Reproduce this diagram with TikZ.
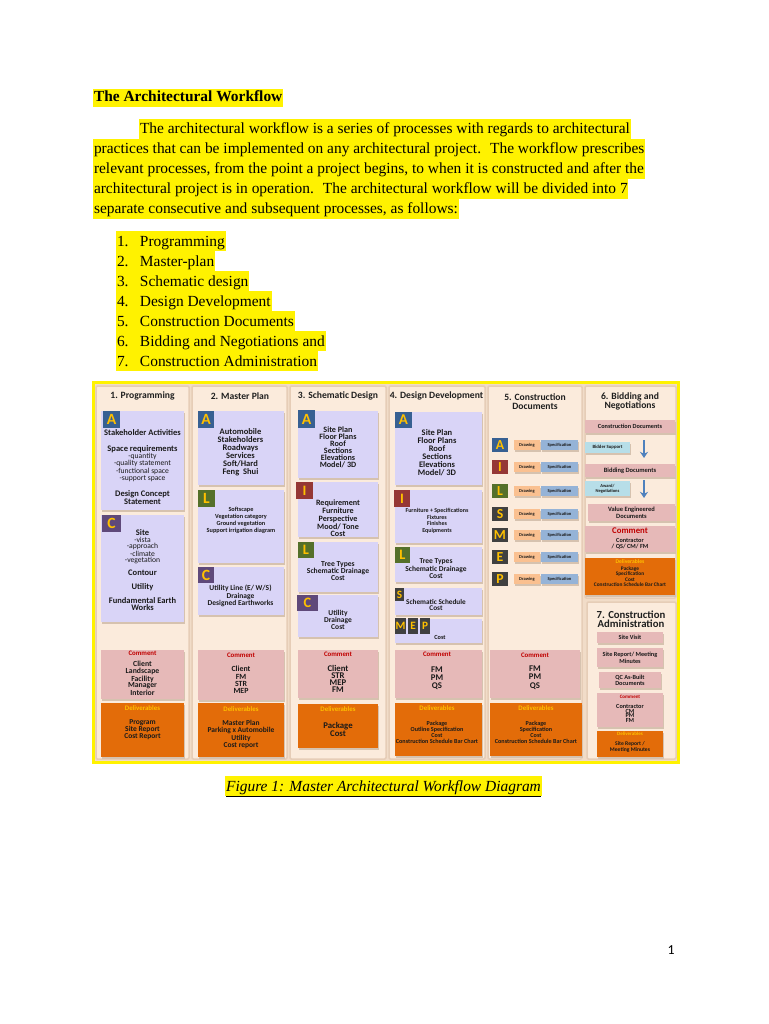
\documentclass[tikz,border=0pt]{standalone}
\usepackage{fontspec}
\setmainfont{Liberation Serif}
\newfontfamily\calfont{Carlito}
\usetikzlibrary{fit,arrows.meta}
\definecolor{bgc}{HTML}{F1DCC8}
\definecolor{panelc}{HTML}{FBEBDC}
\definecolor{paneld}{HTML}{E6CDB7}
\definecolor{lav}{HTML}{D9D4F7}
\definecolor{pinkc}{HTML}{E6B9B8}
\definecolor{orangec}{HTML}{E36C09}
\definecolor{goldc}{HTML}{FFC000}
\definecolor{redt}{HTML}{C00000}
\definecolor{bA}{HTML}{376092}
\definecolor{bI}{HTML}{953735}
\definecolor{bL}{HTML}{55702A}
\definecolor{bC}{HTML}{5F497A}
\definecolor{bS}{HTML}{404040}
\definecolor{drawc}{HTML}{FAC090}
\definecolor{specc}{HTML}{95B3D7}
\definecolor{cyanc}{HTML}{B7DEE8}
\definecolor{arrowc}{HTML}{4F81BD}
\definecolor{shadowc}{HTML}{D6C2AF}
\definecolor{textc}{HTML}{1A1A1A}
\definecolor{hdrc}{HTML}{1F1F1F}
\newcommand\cbf[2]{\calfont\bfseries\fontsize{#1pt}{#2pt}\selectfont}
\newcommand\crg[2]{\calfont\fontsize{#1pt}{#2pt}\selectfont}
\newcommand\bx[6]{\fill[shadowc] (#3+1.2,#4+1.5) rectangle (#5+1.2,#6+1.5);
  \node[#2, fit={(#3,#4)(#5,#6)}] (#1) {};}
\newcommand\bdg[8]{\node[box, fill=#2, fit={(#4,#5)(#6,#7)}] (#1) {};
  \node[inner sep=0pt, text=goldc, font=\cbf{#3}{#3}] (#1-l) at (#1.center) {#8};}
\tikzset{
 box/.style={inner sep=0pt, outer sep=0pt},
 lavbox/.style={box, fill=lav},
 pinkbox/.style={box, fill=pinkc},
 orgbox/.style={box, fill=orangec},
 cyanbox/.style={box, fill=cyanc},
 drawbox/.style={box, fill=drawc},
 specbox/.style={box, fill=specc},
 panel/.style={box, fill=panelc, draw=paneld, line width=1.2pt, rounded corners=1pt},
 txt/.style={inner sep=0pt, align=center, text=textc},
 hdr/.style={txt, font=\cbf{7.7}{7.2}, text=hdrc},
 cmt/.style={txt, font=\cbf{5.5}{5.5}, text=redt},
 dlv/.style={txt, font=\cbf{5.5}{5.5}, text=goldc},
 barrow/.style={draw=arrowc, line width=1.3pt, -{Stealth[length=5pt,width=6.5pt]}},
 hl/.style={fill=yellow, inner xsep=0.6pt, inner ysep=0pt, text height=12pt, text depth=4pt, anchor=base west, font=\fontsize{12.35pt}{14pt}\selectfont}
}
\begin{document}
\begin{tikzpicture}[x=0.8pt,y=-0.8pt]
\useasboundingbox (0,0) rectangle (768,1024);
\fill[white] (0,0) rectangle (768,1024);
% ---------- text ----------
\node[hl, font=\bfseries\fontsize{12.35pt}{14pt}\selectfont, text height=10.5pt, text depth=4pt] (title) at (93,102) {The Architectural Workflow};
\node[hl] (par1) at (139,134) {The architectural workflow is a series of processes with regards to architectural};
\node[hl] (par2) at (93,154) {practices that can be implemented on any architectural project.~ The workflow prescribes};
\node[hl] (par3) at (93,174) {relevant processes, from the point a project begins, to when it is constructed and after the};
\node[hl] (par4) at (93,194) {architectural project is in operation.~ The architectural workflow will be divided into 7};
\node[hl] (par5) at (93,214) {separate consecutive and subsequent processes, as follows:};
\node[hl] (li1) at (116,246) {\makebox[18.4pt][l]{1.}Programming};
\node[hl] (li2) at (116,266) {\makebox[18.4pt][l]{2.}Master-plan};
\node[hl] (li3) at (116,286) {\makebox[18.4pt][l]{3.}Schematic design};
\node[hl] (li4) at (116,306) {\makebox[18.4pt][l]{4.}Design Development};
\node[hl] (li5) at (116,326) {\makebox[18.4pt][l]{5.}Construction Documents};
\node[hl] (li6) at (116,346) {\makebox[18.4pt][l]{6.}Bidding and Negotiations and};
\node[hl] (li7) at (116,366) {\makebox[18.4pt][l]{7.}Construction Administration};
\node[hl, anchor=base, font=\itshape\fontsize{12.35pt}{14pt}\selectfont] (cap) at (383.5,791) {\underline{Figure 1: Master Architectural Workflow Diagram}};
\node[anchor=base, inner sep=0pt, font=\crg{11}{13}] (pgnum) at (671,954) {1};
% ---------- frame and panels ----------
\node[box, fit={(93,382)(678,762)}, fill=bgc, draw=yellow, line width=2.4pt] (frame) {};
\node[panel, fit={(96,386)(189,759)}] (pan1) {};
\node[panel, fit={(192,386)(287,759)}] (pan2) {};
\node[panel, fit={(290,386)(386,759)}] (pan3) {};
\node[panel, fit={(389,386)(485,759)}] (pan4) {};
\node[panel, fit={(488,386)(582,759)}] (pan5) {};
\node[panel, fit={(585,386)(676,598)}] (pan6) {};
\node[panel, fit={(587,602)(676,759)}] (pan7) {};
% headers
\node[hdr] (h1) at (142.5,396) {1. Programming};
\node[hdr] (h2) at (240,396) {2. Master Plan};
\node[hdr] (h3) at (338,396) {3. Schematic Design};
\node[hdr] (h4) at (436.5,396) {4. Design Development};
\node[hdr] (h5) at (535,401.5) {5. Construction\\Documents};
\node[hdr] (h6) at (630,401.5) {6. Bidding and\\Negotiations};
\node[hdr, font=\cbf{8.6}{7.4}] (h7) at (631,619.5) {7. Construction\\Administration};
% ---------- column 1 ----------
\bx{c1A}{lavbox}{101}{411}{184}{510}
\bdg{c1Ab}{bA}{12.5}{103}{411}{120}{428}{A}
\node[txt, font=\cbf{6.8}{6.8}] (c1At1) at (142.5,433) {Stakeholder Activities};
\node[txt, font=\cbf{6.8}{6.8}] (c1At2) at (142.5,449) {Space requirements};
\node[txt, font=\crg{6.1}{5.9}] (c1At3) at (142.5,467.5) {-quantity\\-quality statement\\-functional space\\-support space};
\node[txt, font=\cbf{6.8}{6.4}] (c1At4) at (142.5,498) {Design Concept\\Statement};
\bx{c1C}{lavbox}{101}{515}{184}{622}
\bdg{c1Cb}{bC}{12.5}{102}{515}{121}{532}{C}
\node[txt, font=\cbf{6.8}{6.8}] (c1Ct1) at (142.5,532.5) {Site};
\node[txt, font=\crg{6.1}{5}] (c1Ct2) at (142.5,550.5) {-vista\\-approach\\-climate\\-vegetation};
\node[txt, font=\cbf{6.8}{6.8}] (c1Ct3) at (142.5,573) {Contour};
\node[txt, font=\cbf{6.8}{6.8}] (c1Ct4) at (142.5,587) {Utility};
\node[txt, font=\cbf{6.8}{5.6}] (c1Ct5) at (142.5,604.5) {Fundamental Earth\\Works};
\bx{c1M}{pinkbox}{101}{650}{184}{699}
\node[cmt] (c1Mt) at (142.5,653.5) {Comment};
\node[txt, font=\cbf{6.2}{5}] (c1Ml) at (142.5,678.5) {Client\\Landscape\\Facility\\Manager\\Interior};
\bx{c1D}{orgbox}{101}{703}{184}{757}
\node[dlv] (c1Dt) at (142.5,708) {Deliverables};
\node[txt, font=\cbf{6}{5.6}] (c1Dl) at (142.5,730) {Program\\Site Report\\Cost Report};
% ---------- column 2 ----------
\bx{c2A}{lavbox}{198}{411}{284}{485}
\bdg{c2Ab}{bA}{12.5}{198}{411}{214}{428}{A}
\node[txt, font=\cbf{6.8}{6.4}] (c2At) at (240.5,452) {Automobile\\Stakeholders\\Roadways\\Services\\Soft/Hard\\Feng~ Shui};
\bx{c2L}{lavbox}{198}{490}{284}{563}
\bdg{c2Lb}{bL}{12.5}{198}{490}{215}{507}{L}
\node[txt, font=\cbf{5}{5.6}] (c2Lt) at (241,520.5) {Softscape\\Vegetation category\\Ground vegetation\\Support irrigation diagram};
\bx{c2C}{lavbox}{198}{567}{284}{615}
\bdg{c2Cb}{bC}{12.5}{198}{567}{214}{583}{C}
\node[txt, font=\cbf{6}{6}] (c2Ct) at (240.5,596) {Utility Line (E/ W/S)\\Drainage\\Designed Earthworks};
\bx{c2M}{pinkbox}{198}{650}{284}{700}
\node[cmt] (c2Mt) at (241,655) {Comment};
\node[txt, font=\cbf{6.3}{5.9}] (c2Ml) at (241,680) {Client\\FM\\STR\\MEP};
\bx{c2D}{orgbox}{198}{703}{284}{757}
\node[dlv] (c2Dt) at (241,709) {Deliverables};
\node[txt, font=\cbf{6}{6.1}] (c2Dl) at (241,734.5) {Master Plan\\Parking x Automobile\\Utility\\Cost report};
% ---------- column 3 ----------
\bx{c3A}{lavbox}{298}{411}{378}{478}
\bdg{c3Ab}{bA}{12.5}{298}{410}{315}{428}{A}
\node[txt, font=\cbf{6.5}{5.6}] (c3At) at (338,447.5) {Site Plan\\Floor Plans\\Roof\\Sections\\Elevations\\Model/ 3D};
\bx{c3I}{lavbox}{298}{482}{378}{537}
\bdg{c3Ib}{bI}{11.5}{296}{482}{313}{499}{I}
\node[txt, font=\cbf{6.5}{6.2}] (c3It) at (338,518.5) {Requirement\\Furniture\\Perspective\\Mood/ Tone\\Cost};
\bx{c3L}{lavbox}{298}{542}{378}{592}
\bdg{c3Lb}{bL}{11.5}{298}{542}{314}{558}{L}
\node[txt, font=\cbf{6.1}{5.6}] (c3Lt) at (338,571) {Tree Types\\Schematic Drainage\\Cost};
\bx{c3C}{lavbox}{298}{595}{378}{637}
\bdg{c3Cb}{bC}{11.5}{297}{595}{318}{611}{C}
\node[txt, font=\cbf{6}{5.6}] (c3Ct) at (338,620) {Utility\\Drainage\\Cost};
\bx{c3M}{pinkbox}{298}{650}{378}{698}
\node[cmt] (c3Mt) at (338,654) {Comment};
\node[txt, font=\cbf{7}{5.6}] (c3Ml) at (338,678.5) {Client\\STR\\MEP\\FM};
\bx{c3D}{orgbox}{298}{704}{378}{748}
\node[dlv] (c3Dt) at (338,709) {Deliverables};
\node[txt, font=\cbf{7}{6.4}] (c3Dl) at (338,729) {Package\\Cost};
% ---------- column 4 ----------
\bx{c4A}{lavbox}{395}{412}{482}{485}
\bdg{c4Ab}{bA}{12}{395}{412}{412}{428}{A}
\node[txt, font=\cbf{6.8}{6.4}] (c4At) at (437,453) {Site Plan\\Floor Plans\\Roof\\Sections\\Elevations\\Model/ 3D};
\bx{c4I}{lavbox}{395}{490}{482}{543}
\bdg{c4Ib}{bI}{11.5}{394}{490}{410}{507}{I}
\node[txt, font=\cbf{4.8}{5.3}] (c4It) at (437,521) {Furniture + Specifications\\Fixtures\\Finishes\\Equipments};
\bx{c4L}{lavbox}{395}{547}{482}{582}
\bdg{c4Lb}{bL}{11.5}{395}{547}{410}{563}{L}
\node[txt, font=\cbf{6}{4.4}] (c4Lt) at (436,568.5) {Tree Types\\Schematic Drainage\\Cost};
\bx{c4S}{lavbox}{395}{588}{482}{615}
\bdg{c4Sb}{bS}{9}{395}{588}{404}{601}{S}
\node[txt, font=\cbf{5.8}{4.8}] (c4St) at (436,605) {Schematic Schedule\\Cost};
\bx{c4P}{lavbox}{395}{619}{482}{643}
\bdg{c4Pm}{bS}{9}{395}{618}{406}{634}{M}
\bdg{c4Pe}{bS}{9}{408}{618}{418}{634}{E}
\bdg{c4Pp}{bS}{9}{420}{618}{430}{634}{P}
\node[txt, font=\cbf{5}{5}] (c4Pt) at (440,637) {Cost};
\bx{c4M}{pinkbox}{395}{650}{482}{698}
\node[cmt] (c4Mt) at (437,654) {Comment};
\node[txt, font=\cbf{7}{6.4}] (c4Ml) at (437,678) {FM\\PM\\QS};
\bx{c4D}{orgbox}{395}{703}{482}{756}
\node[dlv] (c4Dt) at (437,708) {Deliverables};
\node[txt, font=\cbf{4.9}{4.8}] (c4Dl) at (437,732) {Package\\Outline Specification\\Cost\\Construction Schedule Bar Chart};
% ---------- column 5 ----------
\foreach \yc/\lt/\cc [count=\i] in {445/A/bA,467/I/bI,491/L/bL,514/S/bS,535/M/bS,557/E/bS,579/P/bS}{
  \bdg{c5b\i}{\cc}{11}{492}{\yc-7}{508}{\yc+7}{\lt}
  \bx{c5d\i}{drawbox}{514}{\yc-5}{540}{\yc+5}
  \node[txt, font=\cbf{3.6}{3.6}] (c5dt\i) at (c5d\i) {Drawing};
  \bx{c5s\i}{specbox}{541}{\yc-5}{578}{\yc+5}
  \node[txt, font=\cbf{3.6}{3.6}] (c5st\i) at (c5s\i) {Specification};
}
\bx{c5M}{pinkbox}{490}{650}{580}{698}
\node[cmt] (c5Mt) at (535,655) {Comment};
\node[txt, font=\cbf{7}{6.8}] (c5Ml) at (535,677.5) {FM\\PM\\QS};
\bx{c5D}{orgbox}{490}{703}{582}{756}
\node[dlv] (c5Dt) at (536,708) {Deliverables};
\node[txt, font=\cbf{4.9}{4.8}] (c5Dl) at (536,732) {Package\\Specification\\Cost\\Construction Schedule Bar Chart};
% ---------- column 6 ----------
\bx{c6a}{pinkbox}{585}{420}{675}{433}
\node[txt, font=\cbf{5}{5}] (c6at) at (c6a) {Construction Documents};
\bx{c6b}{cyanbox}{585}{442}{630}{453}
\node[txt, font=\cbf{3.8}{3.8}] (c6bt) at (c6b) {Bidder Support};
\coordinate (c6ar1s) at (644,440);
\coordinate (c6ar1e) at (644,458);
\draw[barrow] (c6ar1s) -- (c6ar1e);
\bx{c6c}{pinkbox}{585}{464}{675}{477}
\node[txt, font=\cbf{5.2}{5.2}] (c6ct) at (c6c) {Bidding Documents};
\bx{c6d}{cyanbox}{585}{481}{630}{496}
\node[txt, font=\cbf{3.6}{3.8}] (c6dt) at (c6d) {Award/\\Negotiations};
\coordinate (c6ar2s) at (644,480);
\coordinate (c6ar2e) at (644,498);
\draw[barrow] (c6ar2s) -- (c6ar2e);
\bx{c6e}{pinkbox}{588}{504}{675}{521}
\node[txt, font=\cbf{5.2}{5.4}] (c6et) at (c6e) {Value Engineered\\Documents};
\bx{c6M}{pinkbox}{585}{526}{675}{552}
\node[cmt, font=\cbf{7}{7}] (c6Mt) at (630,531) {Comment};
\node[txt, font=\cbf{5}{4.8}] (c6Ml) at (630,544) {Contractor\\/ QS/ CM/ FM};
\bx{c6D}{orgbox}{585}{558}{675}{595}
\node[dlv, font=\cbf{4.5}{4.5}] (c6Dt) at (630,562) {Deliverables};
\node[txt, font=\cbf{4.3}{4.3}] (c6Dl) at (630,576.5) {Package\\Specification\\Cost\\Construction Schedule Bar Chart};
% ---------- section 7 ----------
\bx{c7a}{pinkbox}{597}{632}{663}{643}
\node[txt, font=\cbf{5}{5}] (c7at) at (c7a) {Site Visit};
\bx{c7b}{pinkbox}{597}{648}{663}{667}
\node[txt, font=\cbf{5}{5.6}] (c7bt) at (c7b) {Site Report/ Meeting\\Minutes};
\bx{c7c}{pinkbox}{599}{672}{661}{688}
\node[txt, font=\cbf{5}{4.8}] (c7ct) at (c7c) {QC As-Built\\Documents};
\bx{c7M}{pinkbox}{597}{693}{663}{727}
\node[cmt, font=\cbf{4}{4}] (c7Mt) at (630,697) {Comment};
\node[txt, font=\cbf{5}{3.8}] (c7Ml) at (630,713.5) {Contractor\\CM\\PM\\FM};
\bx{c7D}{orgbox}{597}{731}{663}{757}
\node[dlv, font=\cbf{4}{4}] (c7Dt) at (630,734) {Deliverables};
\node[txt, font=\cbf{4.5}{4.8}] (c7Dl) at (630,747) {Site Report /\\Meeting Minutes};
\end{tikzpicture}
\end{document}
